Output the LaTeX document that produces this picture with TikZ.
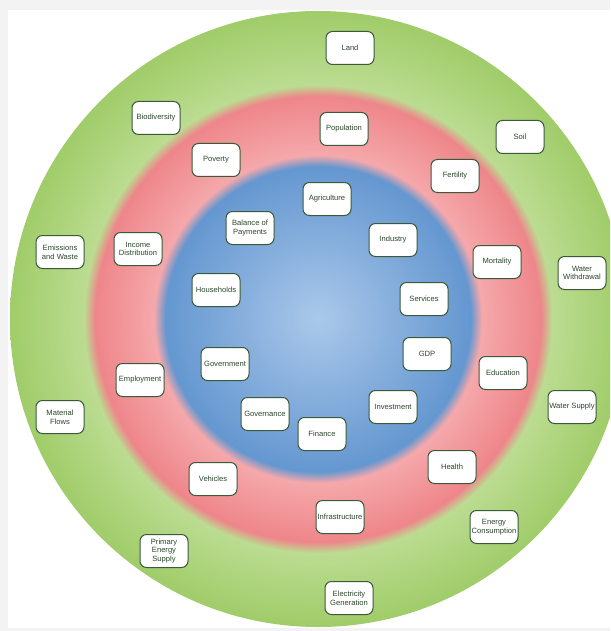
\documentclass[tikz,border=0pt]{standalone}
\usepackage{fontspec}
\setmainfont{Liberation Sans}

\definecolor{pagegray}{HTML}{F3F3F3}
\definecolor{blueinner}{HTML}{ABC8EA}
\definecolor{blueouter}{HTML}{6497D0}
\definecolor{redinner}{HTML}{F5A8AB}
\definecolor{redouter}{HTML}{EE868A}
\definecolor{greeninner}{HTML}{BBDC91}
\definecolor{greenouter}{HTML}{A0CC69}
\definecolor{boxline}{HTML}{3A5A3A}
\definecolor{boxtext}{HTML}{2A472A}

% one shading for the three rings (edge of the disk = 25bp)
\pgfdeclareradialshading{rings}{\pgfpoint{0bp}{0bp}}{%
  color(0bp)=(blueinner);
  color(12.4bp)=(blueouter);
  color(13.3bp)=(redinner);
  color(18.1bp)=(redouter);
  color(19.0bp)=(greeninner);
  color(25bp)=(greenouter);
  color(50bp)=(greenouter)}

\begin{document}
\begin{tikzpicture}[x=1pt, y=-1pt,
    factor/.style={draw=boxline, line width=1pt, fill=white, rounded corners=6.5pt,
      text=boxtext, align=center, minimum width=48pt, minimum height=33pt,
      inner sep=1pt, font=\fontsize{7.6pt}{8.8pt}\selectfont}]
  \useasboundingbox (0,0) rectangle (610,631);
  \fill[pagegray] (0,0) rectangle (610,631);
  \fill[white] (8,10) rectangle (610,628);
  \begin{scope}
    \clip (0,0) rectangle (610,631);
    \shade[shading=rings] (318,319) circle (308pt);
  \end{scope}

  % Outer ring
  \node[factor] (land) at (350,48) {Land};
  \node[factor] (biodiv) at (156,118) {Biodiversity};
  \node[factor] (soil) at (520,137) {Soil};
  \node[factor] (emissions) at (60,252) {Emissions\\and Waste};
  \node[factor] (withdrawal) at (582,273) {Water\\Withdrawal};
  \node[factor] (material) at (60,417) {Material\\Flows};
  \node[factor] (supply) at (572,407) {Water Supply};
  \node[factor] (consumption) at (494,527) {Energy\\Consumption};
  \node[factor] (primary) at (164,551) {Primary\\Energy\\Supply};
  \node[factor] (electricity) at (349,598) {Electricity\\Generation};

  % Middle ring
  \node[factor] (population) at (344,129) {Population};
  \node[factor] (poverty) at (216,160) {Poverty};
  \node[factor] (fertility) at (455,176) {Fertility};
  \node[factor] (income) at (138,249) {Income\\Distribution};
  \node[factor] (mortality) at (497,262) {Mortality};
  \node[factor] (education) at (503,373) {Education};
  \node[factor] (employment) at (140,380) {Employment};
  \node[factor] (health) at (452,467) {Health};
  \node[factor] (vehicles) at (213,479) {Vehicles};
  \node[factor] (infra) at (340,517) {Infrastructure};

  % Inner ring
  \node[factor] (agri) at (327,199) {Agriculture};
  \node[factor] (balance) at (250,228) {Balance of\\Payments};
  \node[factor] (industry) at (393,240) {Industry};
  \node[factor] (households) at (216,290) {Households};
  \node[factor] (services) at (424,299) {Services};
  \node[factor] (gdp) at (427,354) {GDP};
  \node[factor] (government) at (225,364) {Government};
  \node[factor] (investment) at (393,407) {Investment};
  \node[factor] (governance) at (265,414) {Governance};
  \node[factor] (finance) at (322,434) {Finance};
\end{tikzpicture}
\end{document}
